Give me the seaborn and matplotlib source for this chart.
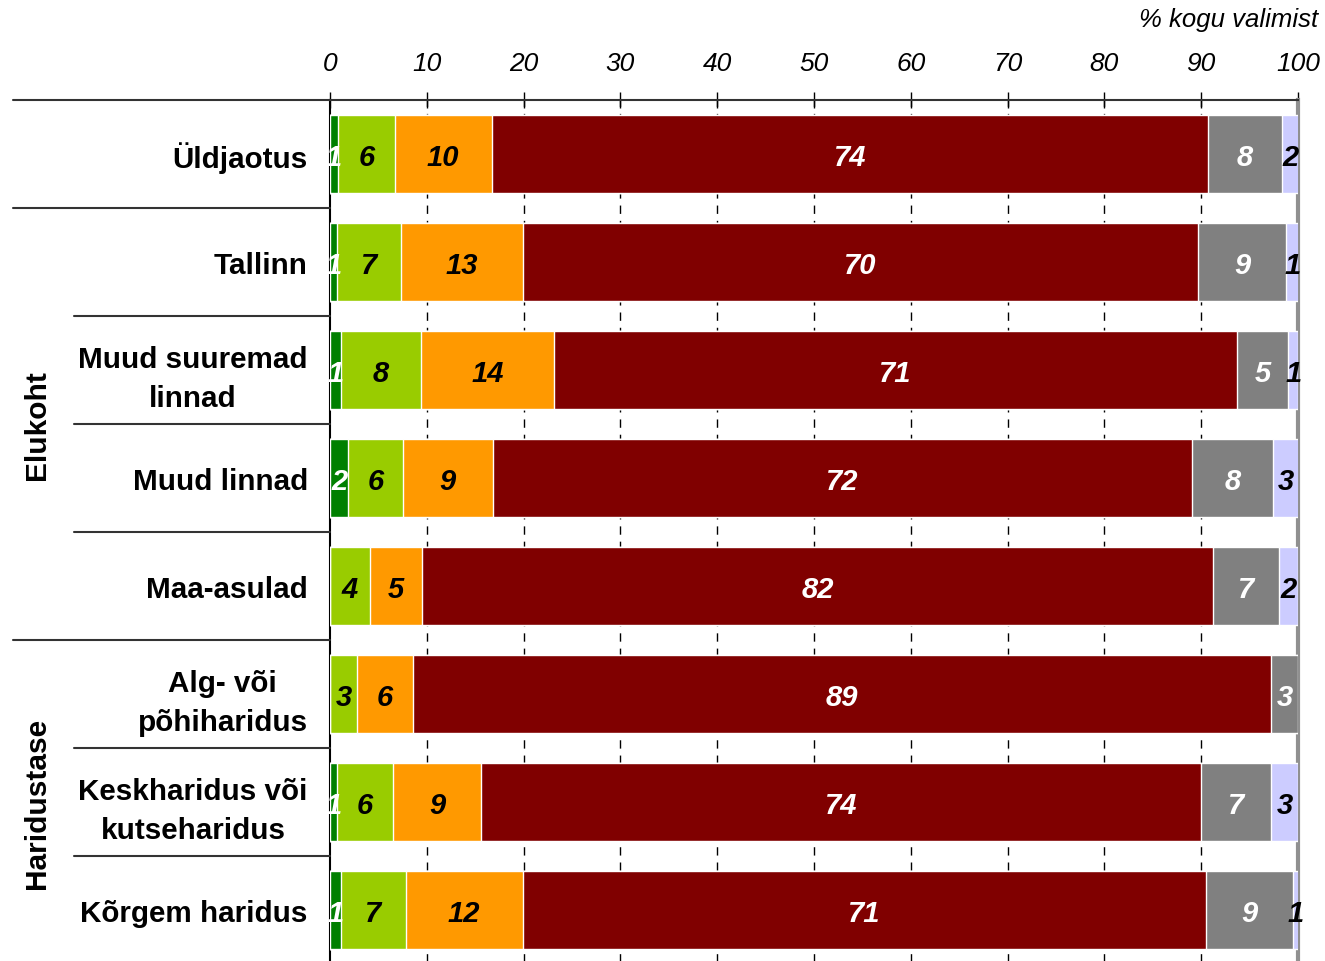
import numpy as np
import pandas as pd
import seaborn as sns
import matplotlib.pyplot as plt
import matplotlib.transforms as mtransforms

# categories (rows, top to bottom)
categories = ['Üldjaotus', 'Tallinn', 'Muud suuremad\nlinnad', 'Muud linnad',
              'Maa-asulad', 'Alg- või\npõhiharidus', 'Keskharidus või\nkutseharidus',
              'Kõrgem haridus']

# segment values, % of total sample
s1 = [0.8, 0.7, 1.1, 1.9, 0.0, 0.0, 0.7, 1.1]         # dark green
s2 = [5.9, 6.6, 8.3, 5.6, 4.1, 2.8, 5.8, 6.7]         # light green
s3 = [10.0, 12.6, 13.7, 9.3, 5.4, 5.8, 9.1, 12.1]     # orange
s4 = [74.0, 69.8, 70.6, 72.3, 81.7, 88.6, 74.4, 70.6] # dark red
s5 = [7.6, 9.1, 5.3, 8.3, 6.8, 2.8, 7.2, 9.0]         # gray
s6 = [1.9, 1.3, 1.0, 2.8, 2.0, 0.0, 2.8, 0.6]         # lavender

colors = ['#008000', '#99CC00', '#FF9900', '#800000', '#808080', '#CCCCFF']
text_colors = ['white', 'black', 'black', 'white', 'white', 'black']

sns.set_style('white')
plt.rcParams['font.family'] = ['Liberation Sans', 'DejaVu Sans']
plt.rcParams['text.color'] = 'black'
plt.rcParams['xtick.color'] = 'black'
plt.rcParams['ytick.color'] = 'black'

segments = np.array([s1, s2, s3, s4, s5, s6])
cum = np.cumsum(segments, axis=0)

fig = plt.figure(figsize=(13.25, 9.62), dpi=100)
ax = fig.add_axes([330 / 1325, 1 - 965 / 962, (1298 - 330) / 1325, 864 / 962])

# stacked bars: draw cumulative totals from largest to smallest
for k in range(5, -1, -1):
    df = pd.DataFrame({'cat': categories, 'val': cum[k]})
    sns.barplot(data=df, x='val', y='cat', color=colors[k], width=0.72,
                saturation=1, orient='h', ax=ax, zorder=3)

# value labels
for k in range(6):
    for i in range(len(categories)):
        v = segments[k, i]
        if v <= 0:
            continue
        center = cum[k, i] - v / 2
        ax.text(center, i, f'{v:.0f}', ha='center', va='center_baseline',
                color=text_colors[k], fontsize=21, fontweight='bold',
                fontstyle='italic', zorder=5)

ax.set_xlim(0, 100)
ax.set_ylim(len(categories) - 0.5, -0.5)
ax.set_xlabel('')
ax.set_ylabel('')

# x axis on top
ax.xaxis.tick_top()
ax.set_xticks(range(0, 101, 10))
ax.set_xticklabels([str(t) for t in range(0, 101, 10)], fontstyle='italic', fontsize=19)
ax.tick_params(axis='x', direction='inout', length=12, width=1, pad=12, colors='black')
ax.tick_params(axis='y', length=0, pad=16, colors='black')
for t in ax.get_yticklabels():
    t.set_fontsize(21.3)
    t.set_fontweight('bold')
    t.set_multialignment('center')
    t.set_linespacing(1.5)
    t.set_verticalalignment('center_baseline')

# dashed gridlines
for x in range(10, 100, 10):
    ax.axvline(x, color='black', linestyle=(0, (6, 5)), linewidth=1, zorder=1)

ax.spines['bottom'].set_visible(False)
ax.spines['left'].set_color('black')
ax.spines['left'].set_linewidth(1.5)
ax.spines['top'].set_color('#333333')
ax.spines['top'].set_linewidth(1.5)
ax.spines['right'].set_color('#909090')
ax.spines['right'].set_linewidth(3)

ax.text((1318 - 330) / 968, 1.0 + 81 / 864, '% kogu valimist', transform=ax.transAxes,
        ha='right', va='center', fontsize=18.5, fontstyle='italic')

# row separators to the left of the axes
trans = mtransforms.blended_transform_factory(ax.transAxes, ax.transData)
x_long = (13 - 330) / 968
x_short = (74 - 330) / 968
for y, x0 in [(-0.5, x_long), (0.5, x_long), (1.5, x_short), (2.5, x_short),
              (3.5, x_short), (4.5, x_long), (5.5, x_short), (6.5, x_short)]:
    ax.plot([x0, 0], [y, y], transform=trans, color='#333333', linewidth=1.5,
            clip_on=False, zorder=4)

# group labels
gx = (37 - 330) / 968
ax.text(gx, 2.5, 'Elukoht', transform=trans, rotation=90, ha='center', va='center',
        fontsize=21.5, fontweight='bold')
ax.text(gx, 6.0, 'Haridustase', transform=trans, rotation=90, ha='center', va='center',
        fontsize=21.5, fontweight='bold')

fig.savefig('out.png', dpi=100)
